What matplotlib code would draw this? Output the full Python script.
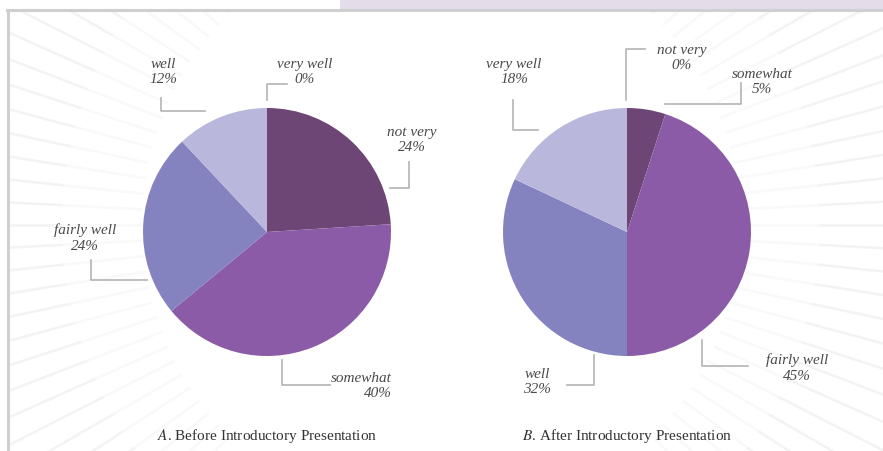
import numpy as np
import matplotlib.pyplot as plt
from matplotlib.patches import Rectangle

# data
labels_a = ['very well', 'not very', 'somewhat', 'fairly well', 'well']
values_a = [0, 24, 40, 24, 12]
labels_b = ['not very', 'somewhat', 'fairly well', 'well', 'very well']
values_b = [0, 5, 45, 32, 18]
titles = ['Before Introductory Presentation', 'After Introductory Presentation']
title_marks = ['A', 'B']

colors = ['#6d4676', '#6d4676', '#8b5ba7', '#8483bf', '#b9b8dc']

W, H = 883, 451
fig = plt.figure(figsize=(W / 100, H / 100), dpi=100)
ax = fig.add_axes([0, 0, 1, 1])


def py(y):
    # pixel row -> data y
    return H - y


# background: faint sunburst from the middle, only visible near the side edges
bx, by = 441, py(225)
for a in np.deg2rad(np.arange(0, 360, 3.0)):
    c, s = np.cos(a), np.sin(a)
    if abs(s) > 0.72:
        continue
    ax.plot([bx + 300 * c, bx + 380 * c], [by + 300 * s, by + 380 * s],
            color='#f9f9f9', lw=1.8, zorder=0)
    ax.plot([bx + 380 * c, bx + 700 * c], [by + 380 * s, by + 700 * s],
            color='#f3f3f3', lw=1.8, zorder=0)
ax.add_patch(Rectangle((0, 0), 8, H, color='white', zorder=0.5))
ax.add_patch(Rectangle((0, py(9)), W, 9, color='white', zorder=0.5))
# top strip and frame
ax.add_patch(Rectangle((340, py(9)), W - 340, 9, color='#e4dde9', lw=0, zorder=1))
ax.plot([7, W], [py(9.5), py(9.5)], color='#cfcfcf', lw=2.2, zorder=2)
ax.plot([8, 8], [py(9.5), 0], color='#cfcfcf', lw=2.2, zorder=2)

txt = dict(family='Liberation Serif', style='italic', fontsize=11,
           color='#4a4a4a', linespacing=1.25)
lead = dict(color='#b4b4b4', lw=1.2, zorder=3)

for vals, cx in [(values_a, 267), (values_b, 627)]:
    ax.pie(vals, colors=colors, startangle=90, counterclock=False,
           center=(cx, py(232)), radius=124, wedgeprops=dict(linewidth=0),
           frame=True)
ax.set_xlim(0, W)
ax.set_ylim(0, H)
ax.set_aspect('equal')
ax.axis('off')

# label layout: (text x, text y, ha, leader points)
layout_a = [
    (305, 72, 'center', [(267, 100), (267, 84), (287, 84)]),
    (412, 140, 'center', [(390, 188), (409, 188), (409, 162)]),
    (392, 386, 'right', [(282, 360), (282, 385), (330, 385)]),
    (85, 238, 'center', [(91, 260), (91, 280), (147, 280)]),
    (163, 72, 'center', [(161, 98), (161, 111), (205, 111)]),
]
layout_b = [
    (682, 58, 'center', [(626, 100), (626, 49), (645, 49)]),
    (762, 82, 'center', [(665, 104), (741, 104), (741, 83)]),
    (797, 368, 'center', [(702, 340), (702, 366), (748, 366)]),
    (537, 382, 'center', [(594, 355), (594, 385), (567, 385)]),
    (514, 72, 'center', [(513, 100), (513, 130), (538, 130)]),
]

for labs, vals, lay in [(labels_a, values_a, layout_a), (labels_b, values_b, layout_b)]:
    for lab, v, (tx, ty, ha, pts) in zip(labs, vals, lay):
        ax.text(tx, py(ty), f'{lab}\n{v}%', ha=ha, va='center', zorder=4, **txt)
        xs, ys = zip(*pts)
        ax.plot(xs, [py(y) for y in ys], **lead)

for cx, mark, t in zip([267, 627], title_marks, titles):
    ax.text(cx, py(436), f'$\\it{{{mark}}}$. {t}', ha='center', va='center',
            family='Liberation Serif', fontsize=11, color='#333333',
            math_fontfamily='stix')

fig.savefig('out.png', dpi=100, facecolor='white')
